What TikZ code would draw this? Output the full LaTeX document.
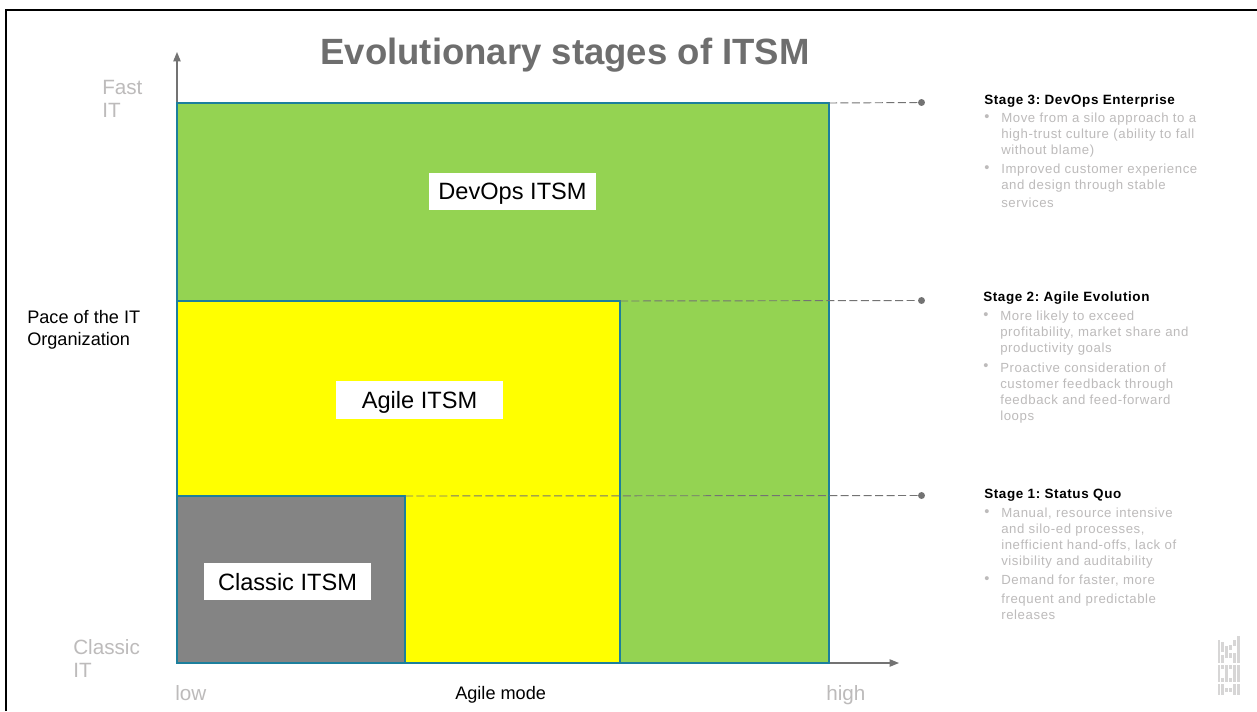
\documentclass[tikz,border=0pt]{standalone}
\usepackage{fontspec}
\setmainfont{Liberation Sans}
\frenchspacing
\usetikzlibrary{arrows.meta}
\definecolor{teal1}{HTML}{1C7F9C}
\definecolor{grn}{HTML}{94D352}
\definecolor{yel}{HTML}{FFFF00}
\definecolor{gry}{HTML}{848484}
\definecolor{lite}{HTML}{BDBBBB}
\definecolor{axisc}{HTML}{737373}
\definecolor{ttl}{HTML}{6E6E6E}
\newcommand{\spaced}{\addfontfeature{LetterSpace=4.5}}
\tikzset{
 x=0.75pt,y=-0.75pt,
 zone/.style={draw=teal1,line width=2pt,outer sep=0pt,inner sep=0pt,anchor=north west},
 zonelabel/.style={fill=white,text=black,font=\fontsize{17.7}{20}\selectfont,inner sep=0pt,minimum height=37.5*0.75pt,minimum width=167*0.75pt,anchor=center},
 axisl/.style={draw=axisc,line width=0.9pt,-{Triangle[length=7pt,width=5.5pt]}},
 leader/.style={draw=axisc,line width=0.7pt,dash pattern=on 6pt off 2.6pt},
 dotn/.style={circle,fill=axisc,inner sep=0pt,minimum size=5.2pt},
 lbl/.style={text=lite,font=\fontsize{15.5}{17.2}\selectfont,align=left,inner sep=0pt,anchor=north west},
 blk/.style={text=black,font=\fontsize{13.6}{16.5}\selectfont,align=left,inner sep=0pt,anchor=north west},
 stage/.style={text=black,font=\bfseries\fontsize{10.1}{11}\selectfont\spaced,inner sep=0pt,anchor=north west},
 bul/.style={text=lite,font=\fontsize{9.9}{12}\selectfont\spaced,align=left,inner sep=0pt,anchor=north west},
 bdot/.style={text=lite,font=\fontsize{11}{12}\selectfont,inner sep=0pt,anchor=north west},
 logo/.style={fill=lite!60!white,draw=none},
}
\begin{document}
\begin{tikzpicture}
\useasboundingbox (0,0) rectangle (1257,711);
\fill[white] (0,0) rectangle (1257,711);
\coordinate (fl) at (6,711); \coordinate (fc) at (6,10); \coordinate (fr) at (1257,10);
\draw[black,line width=1pt] (fl) -- (fc) -- (fr);
% axes
\coordinate (o) at (177,663); \coordinate (yt) at (177,52); \coordinate (xr) at (899,663);
\draw[axisl] (o) -- (yt);
\draw[axisl] (o) -- (xr);
% zones
\node[zone,fill=grn,minimum width=652*0.75pt,minimum height=560*0.75pt] (devops) at (177,103) {};
\node[zone,fill=yel,minimum width=443*0.75pt,minimum height=362*0.75pt] (agile) at (177,301) {};
\node[zone,fill=gry,minimum width=228*0.75pt,minimum height=167*0.75pt] (classic) at (177,496) {};
% leaders
\node[dotn] (d3) at (921.5,102.5) {};
\node[dotn] (d2) at (921.5,300.5) {};
\node[dotn] (d1) at (921.5,495.5) {};
\draw[leader] (devops.north east) -- (d3);
\draw[leader] (agile.north east) -- (d2);
\draw[leader] (classic.north east) -- (d1);
% title
\node[text=ttl,font=\bfseries\fontsize{27.4}{30}\selectfont,inner sep=0pt] (title) at (565,55.5) {Evolutionary stages of ITSM};
% zone labels
\node[zonelabel] (l3) at (512.5,191.5) {\raisebox{-6.2pt}[0pt][0pt]{DevOps ITSM}};
\node[zonelabel] (l2) at (419.5,400) {\raisebox{-6.6pt}[0pt][0pt]{Agile ITSM}};
\node[zonelabel] (l1) at (287.5,581.5) {\raisebox{-6.8pt}[0pt][0pt]{Classic ITSM}};
% axis labels
\node[lbl] (fast) at (102,80) {Fast\\IT};
\node[lbl] (cit) at (73,639) {Classic\\IT};
\node[lbl] (low) at (175,685.5) {low};
\node[lbl] (high) at (826,685.5) {high};
\node[blk] (pace) at (27,310) {Pace of the IT\\Organization};
\node[blk] (mode) at (455,686.5) {Agile mode};
% stage 3
\node[stage] (s3) at (984,94.5) {Stage 3: DevOps Enterprise};
\node[bdot] (m3a) at (984,114) {•};
\node[bul] (b3a) at (1001,113) {Move from a silo approach to a\\high-trust culture (ability to fall\\without blame)};
\node[bdot] (m3b) at (984,165) {•};
\node[bul] (b3b) at (1001,164) {Improved customer experience\\and design through stable\\[1.5pt]services};
% stage 2
\node[stage] (s2) at (983,291) {Stage 2: Agile Evolution};
\node[bdot] (m2a) at (983,312) {•};
\node[bul] (b2a) at (1000,311) {More likely to exceed\\profitability, market share and\\productivity goals};
\node[bdot] (m2b) at (983,363) {•};
\node[bul] (b2b) at (1000,362.5) {Proactive consideration of\\customer feedback through\\feedback and feed-forward\\loops};
% stage 1
\node[stage] (s1) at (984,489) {Stage 1: Status Quo};
\node[bdot] (m1a) at (984,509) {•};
\node[bul] (b1a) at (1001,508) {Manual, resource intensive\\and silo-ed processes,\\inefficient hand-offs, lack of\\visibility and auditability};
\node[bdot] (m1b) at (984,576) {•};
\node[bul] (b1b) at (1001,575) {Demand for faster, more\\[2pt]frequent and predictable\\releases};
% IBM logo (striped, rotated)
\foreach \xx/\a/\b in {
 1217.5/640/663,1221/642/652,1221/655/663,1225/646/658,1229/645/650,1229/653/658,1233/640/646,1233/653/663,1237/636/663,
 1217.5/665/682,1221/665/669,1221/678/682,1225/665/682,1229/665/669,1229/678/682,1233/665/682,1237/665/682,
 1217.5/684/695,1221/684/695,1225/688/692,1229/688/692,1233/684/695,1237/684/695}{
 \fill[logo] (\xx,\a) rectangle ++(2.6,\b-\a);
}
\end{tikzpicture}
\end{document}
